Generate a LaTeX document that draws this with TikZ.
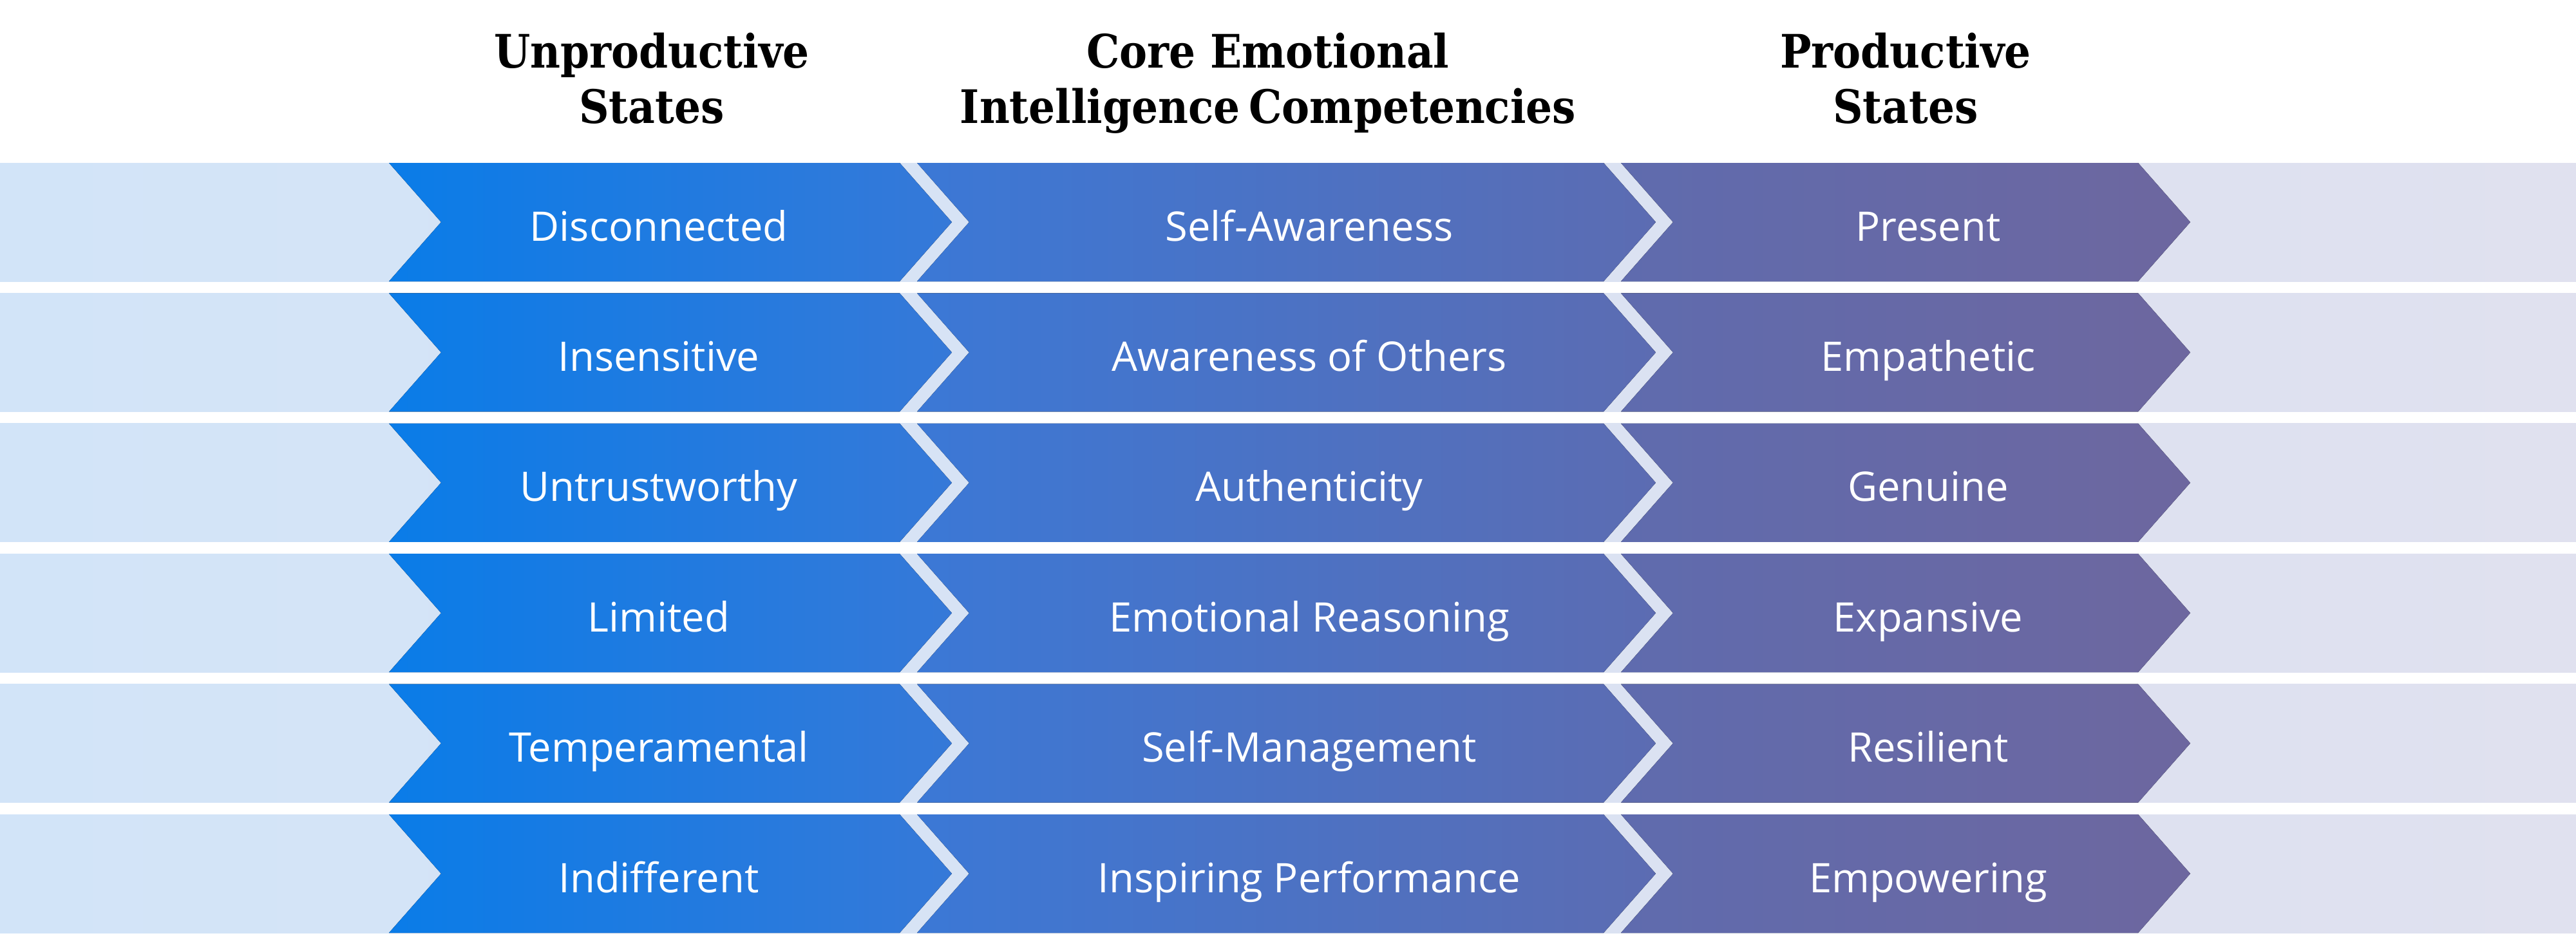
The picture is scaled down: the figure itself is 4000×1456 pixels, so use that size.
\documentclass[tikz,border=0pt]{standalone}
\usepackage{fontspec}
\setmainfont{Open Sans}
\newfontfamily\headfont{DejaVu Serif Condensed}
\usetikzlibrary{positioning}

\definecolor{bgleft}{HTML}{D2E4F8}
\definecolor{bgright}{HTML}{E0E1EF}
\definecolor{chevA}{HTML}{0A7CE8}
\definecolor{chevB}{HTML}{3679D8}
\definecolor{chevC}{HTML}{3B78D6}
\definecolor{chevD}{HTML}{5C6CB2}
\definecolor{chevE}{HTML}{5F6BAE}
\definecolor{chevF}{HTML}{6D679F}

\begin{document}
\begin{tikzpicture}[x=0.1mm, y=-0.1mm,
  head/.style={font=\headfont\bfseries\fontsize{20.4}{24.4}\selectfont, align=center, anchor=base},
  rowtext/.style={text=white, font=\fontsize{18}{21}\selectfont, anchor=base}]
\useasboundingbox (0,0) rectangle (4000,1456);

% column headings
\node[head, name=hunprod] at (1012,191) {Unproductive\\States};
\node[head, name=hcore] at (1969,191) {Core Emotional\\Intelligence\hspace{-0.12em} Competencies};
\node[head, name=hprod] at (2959,191) {Productive\\States};

% rows of chevrons
\foreach \a/\b/\c [count=\i from 0] in {Disconnected/Self-Awareness/Present,
    Insensitive/Awareness of Others/Empathetic,
    Untrustworthy/Authenticity/Genuine,
    Limited/Emotional Reasoning/Expansive,
    Temperamental/Self-Management/Resilient,
    Indifferent/Inspiring Performance/Empowering}{
  \pgfmathsetmacro\yt{253+202.4*\i}
  \pgfmathsetmacro\ym{\yt+92}
  \pgfmathsetmacro\yb{\yt+184}
  \fill[left color=bgleft, right color=bgright] (0,\yt) rectangle (4000,\yb);
  \fill[left color=chevA, right color=chevB] (604,\yt) -- (1397,\yt) -- (1478,\ym) -- (1397,\yb) -- (604,\yb) -- (685,\ym) -- cycle;
  \fill[left color=chevC, right color=chevD] (1424,\yt) -- (2490,\yt) -- (2571,\ym) -- (2490,\yb) -- (1424,\yb) -- (1505,\ym) -- cycle;
  \fill[left color=chevE, right color=chevF] (2517,\yt) -- (3320,\yt) -- (3401,\ym) -- (3320,\yb) -- (2517,\yb) -- (2598,\ym) -- cycle;
  \node[rowtext, name=ustate\i] at (1023,\yt+121) {\a};
  \node[rowtext, name=core\i] at (2033,\yt+121) {\b};
  \node[rowtext, name=pstate\i] at (2994,\yt+121) {\c};
}
\end{tikzpicture}
\end{document}
